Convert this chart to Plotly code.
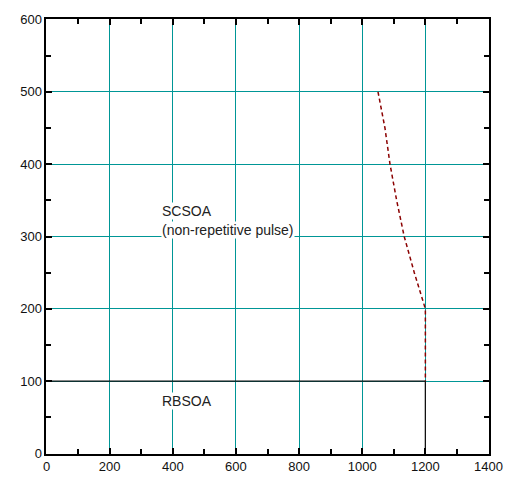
import plotly.graph_objects as go

# Short-circuit SOA boundary (non-repetitive pulse)
sc_vce = [1050, 1072, 1088, 1109, 1133, 1165, 1200, 1200]
sc_ic = [500, 450, 400, 350, 300, 250, 200, 100]

# Reverse-bias SOA boundary
rb_vce = [0, 1200, 1200]
rb_ic = [100, 100, 0]

x_ticks = [0, 200, 400, 600, 800, 1000, 1200, 1400]
y_ticks = [0, 100, 200, 300, 400, 500, 600]

FONT = "Arial, Liberation Sans, sans-serif"
GRID = "#009696"

W, H = 515, 486
ML, MR, MT, MB = 46, 20, 12, 23
PW, PH = W - ML - MR, H - MT - MB   # 449 x 451

fig = go.Figure()

fig.add_trace(go.Scatter(
    x=rb_vce, y=rb_ic, mode="lines",
    line=dict(color="#111111", width=1.3),
    hoverinfo="skip", showlegend=False,
))
fig.add_trace(go.Scatter(
    x=sc_vce, y=sc_ic, mode="lines",
    line=dict(color="#8B0000", width=1.5, dash="4px,3px"),
    hoverinfo="skip", showlegend=False,
))

# white patch that interrupts the grid under the RBSOA label
fig.add_shape(type="rect", x0=380, x1=620, y0=39, y1=62,
              fillcolor="white", line=dict(width=0), layer="below")

for txt, x, y in [("SCSOA", 362, 335),
                  ("(non-repetitive pulse)", 362, 309),
                  ("RBSOA", 362, 72)]:
    fig.add_annotation(x=x, y=y, text=txt, showarrow=False,
                       xanchor="left", yanchor="middle",
                       bgcolor="white", borderpad=0,
                       font=dict(family=FONT, size=14, color="#222"))

axis_common = dict(
    showline=True, linecolor="black", linewidth=2, mirror="ticks",
    ticks="inside", ticklen=6, tickwidth=1.5, tickcolor="black",
    showgrid=True, gridcolor=GRID, gridwidth=1.2,
    zeroline=False,
    tickfont=dict(family=FONT, size=13, color="#111"),
)

# half-pixel domain offsets keep the 1px grid lines crisp
fig.update_xaxes(range=[0, 1400], tickvals=x_ticks,
                 domain=[0.5 / PW, (PW - 0.5) / PW],
                 minor=dict(ticks="inside", dtick=100, ticklen=5,
                            tickwidth=1.5, tickcolor="black", showgrid=False),
                 **axis_common)
fig.update_yaxes(range=[0, 600], tickvals=y_ticks,
                 domain=[0.5 / PH, (PH - 0.5) / PH],
                 minor=dict(ticks="inside", dtick=50, ticklen=5,
                            tickwidth=1.5, tickcolor="black", showgrid=False),
                 **axis_common)

fig.update_layout(
    width=W, height=H,
    margin=dict(l=ML, r=MR, t=MT, b=MB),
    paper_bgcolor="white", plot_bgcolor="white",
    showlegend=False,
)

fig.write_html("out.html")
